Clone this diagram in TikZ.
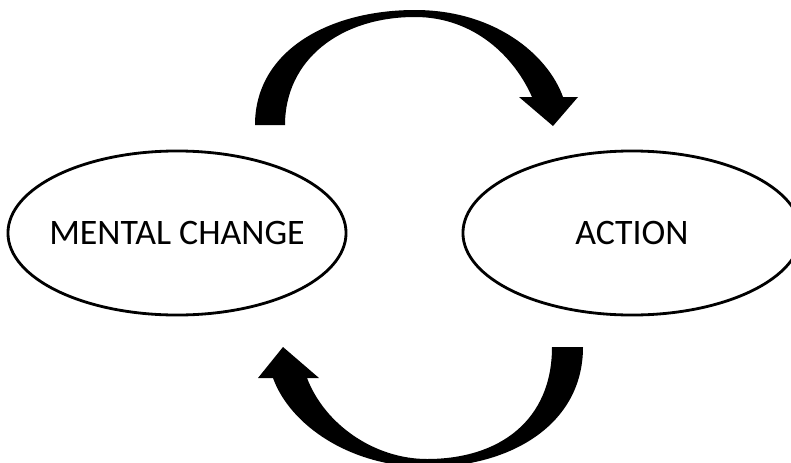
\documentclass[tikz,border=0pt]{standalone}
\usepackage{fontspec}
\setmainfont{Carlito}
\usetikzlibrary{shapes.geometric}

\begin{document}
\begin{tikzpicture}[
  x=0.025cm, y=-0.025cm,
  state/.style={draw, ellipse, line width=2pt, inner sep=0pt,
    minimum width=8.45cm, minimum height=4.1cm,
    font=\fontsize{25.5}{30}\selectfont, text=black},
  bigarrow/.style={fill=black, draw=none},
]
\useasboundingbox (0,0) rectangle (791,462);
\clip (0,0) rectangle (791,462);

% ===== states =====
\node[state] (mental) at (177,233) {\makebox[0pt]{MENTAL CHANGE}};
\node[state] (action) at (632,233) {\makebox[0pt]{ACTION}};

% ===== top arrow: mental -> action =====
\fill[bigarrow] (255,125) .. controls (255,50) and (330,10) .. (415,10)
  .. controls (495,10) and (548,55) .. (563,97)
  -- (578,97) -- (553,126) -- (519,97) -- (532,97)
  .. controls (515,58) and (475,17) .. (415,17)
  .. controls (340,17) and (285,60) .. (285,125) -- cycle;

% ===== bottom arrow: action -> mental =====
\fill[bigarrow] (583,347) .. controls (583,425) and (510,467) .. (427,467)
  .. controls (350,467) and (290,425) .. (273,378)
  -- (258,378) -- (283,347) -- (319,378) -- (307,378)
  .. controls (325,425) and (375,459) .. (427,459)
  .. controls (500,459) and (552,420) .. (552,347) -- cycle;

\end{tikzpicture}
\end{document}
